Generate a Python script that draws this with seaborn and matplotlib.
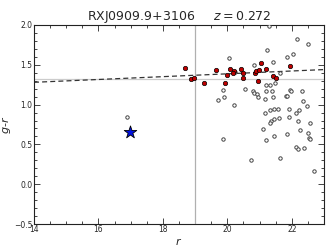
import numpy as np
import pandas as pd
import matplotlib
matplotlib.use("Agg")
import matplotlib.pyplot as plt
import seaborn as sns
from matplotlib.ticker import MultipleLocator

# red-sequence members (filled red)
red_r = [18.68, 18.87, 18.98, 19.27, 19.65, 19.92, 19.99, 20.08, 20.20, 20.19, 20.42,
         20.49, 20.49, 20.85, 20.90, 20.97, 21.03, 20.96, 21.19, 21.42, 21.50, 21.95]
red_gr = [1.46, 1.32, 1.34, 1.275, 1.43, 1.27, 1.37, 1.45, 1.42, 1.40, 1.45,
          1.40, 1.34, 1.40, 1.425, 1.43, 1.52, 1.30, 1.45, 1.36, 1.34, 1.48]

# other galaxies (open circles)
oth_r = [16.90, 20.04, 20.83, 21.41, 21.22, 22.15, 22.51, 21.86, 22.04, 21.63, 20.25,
         20.54, 19.86, 19.72, 19.89, 20.21, 20.79, 20.82, 20.91, 20.96, 21.20, 21.33,
         21.47, 21.20, 21.39, 21.18, 21.41, 21.81, 21.86, 21.94, 21.99, 22.33, 22.35,
         22.47, 21.17, 21.31, 21.44, 21.57, 21.92, 22.14, 22.23, 21.34, 21.45, 21.59,
         21.31, 21.92, 22.20, 22.55, 21.10, 21.45, 21.21, 21.86, 22.24, 22.51, 22.52,
         22.58, 19.88, 22.12, 22.19, 22.37, 20.73, 21.62, 22.68, 21.30]
oth_gr = [0.84, 1.59, 1.50, 1.53, 1.68, 1.83, 1.76, 1.60, 1.64, 1.40, 1.41,
          1.20, 1.18, 1.06, 1.10, 1.00, 1.17, 1.14, 1.13, 1.10, 1.25, 1.25,
          1.27, 1.175, 1.175, 1.075, 1.10, 1.11, 1.11, 1.18, 1.17, 1.175, 1.04,
          0.98, 0.90, 0.93, 0.94, 0.95, 0.95, 0.90, 0.93, 0.80, 0.825, 0.83,
          0.77, 0.84, 0.80, 0.775, 0.69, 0.60, 0.56, 0.63, 0.675, 0.64, 0.58,
          0.57, 0.57, 0.47, 0.44, 0.45, 0.30, 0.33, 0.16, 1.99]

# BCG (star)
bcg_r = [16.97]
bcg_gr = [0.65]

# red-sequence fit (dashed) endpoints
fit_r = [14.0, 23.0]
fit_gr = [1.28, 1.44]

mag_cut = 19.0
color_ref = 1.32

title = "RXJ0909.9+3106     $z=0.272$"

sns.set_style("ticks")
plt.rcParams['font.family'] = ['DejaVu Sans']

fig = plt.figure(figsize=(3.32, 2.49), dpi=100)
ax = fig.add_axes([34/332, 25/249, 290/332, 199/249])

ax.axvline(mag_cut, color="#b0b0b0", lw=0.9, zorder=1)
ax.axhline(color_ref, color="#cccccc", lw=0.9, zorder=1)
sns.lineplot(x=fit_r, y=fit_gr, ax=ax, color="#333333", lw=0.9, linestyle=(0, (4, 2.5)), zorder=2)

sns.scatterplot(x=oth_r, y=oth_gr, ax=ax, facecolor="white", edgecolor="#444444",
                s=6, linewidth=0.7, zorder=3)
sns.scatterplot(x=red_r, y=red_gr, ax=ax, color="#c00000", edgecolor="black",
                s=10, linewidth=0.5, zorder=4)
sns.scatterplot(x=bcg_r, y=bcg_gr, ax=ax, marker="*", color="#0010e0", edgecolor="black",
                s=90, linewidth=0.6, zorder=5)

ax.set_xlim(14, 23)
ax.set_ylim(-0.5, 2.0)
ax.xaxis.set_major_locator(MultipleLocator(2))
ax.xaxis.set_minor_locator(MultipleLocator(0.5))
ax.yaxis.set_major_locator(MultipleLocator(0.5))
ax.yaxis.set_minor_locator(MultipleLocator(0.1))
ax.tick_params(which="both", direction="in", top=True, right=True, labelsize=5.5,
               width=0.6, pad=1.0)
ax.tick_params(which="major", length=4)
ax.tick_params(which="minor", length=2)
for sp in ax.spines.values():
    sp.set_linewidth(0.8)
    sp.set_color("#222222")

ax.set_xlabel("$r$", fontsize=8, labelpad=1)
ax.set_ylabel("$g$-$r$", fontsize=8, labelpad=1)
ax.set_title(title, fontsize=9, pad=2)

fig.savefig("out.png", dpi=100)
